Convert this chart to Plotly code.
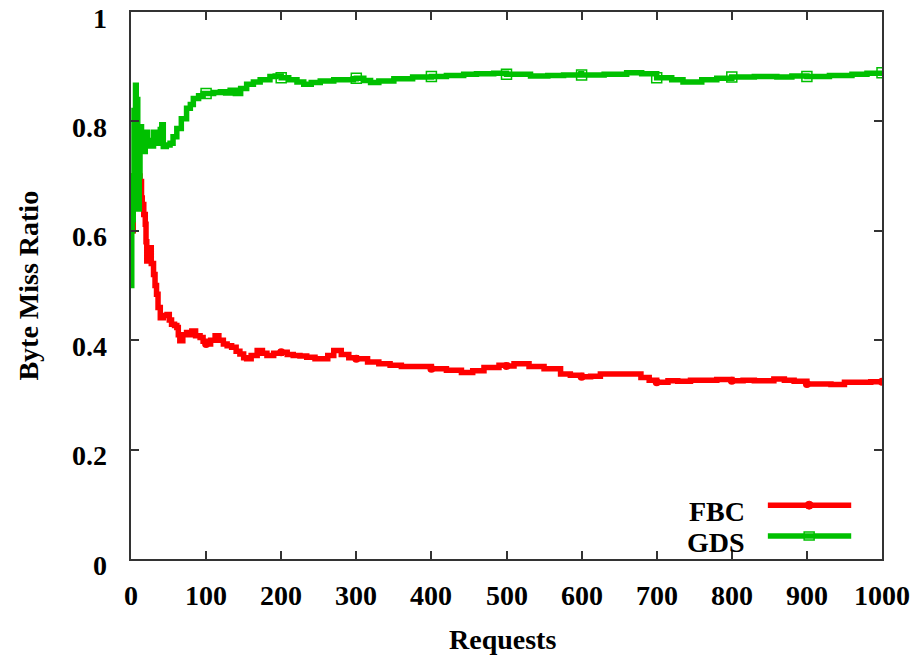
import plotly.graph_objects as go

# ---------------- data ----------------
series_names = ["FBC", "GDS"]

fbc_requests = [0, 3, 6, 9, 12, 14, 15, 17, 19, 20, 21, 23, 25, 27, 30, 32, 34, 36, 39, 43,
                48, 51, 54, 58, 61, 63, 65, 69, 74, 78, 81, 86, 92, 96, 100, 106, 112, 117, 123, 128,
                134, 140, 145, 150, 154, 160, 168, 175, 181, 190, 200, 208, 216, 225, 234, 245, 252, 262, 270, 280,
                290, 300, 315, 330, 345, 360, 380, 400, 420, 440, 455, 470, 490, 500, 510, 530, 550, 572, 585, 600,
                612, 625, 652, 679, 690, 700, 715, 728, 745, 759, 780, 800, 815, 830, 856, 870, 883, 900, 915, 932,
                950, 970, 985, 1000]
fbc_ratio = [0.60, 0.70, 0.75, 0.70, 0.69, 0.66, 0.648, 0.63, 0.612, 0.58, 0.545, 0.56, 0.569, 0.54, 0.52, 0.50, 0.484, 0.46, 0.441, 0.445,
             0.447, 0.437, 0.429, 0.427, 0.423, 0.41, 0.399, 0.41, 0.414, 0.41, 0.417, 0.408, 0.405, 0.398, 0.393, 0.40, 0.408, 0.40, 0.393, 0.39,
             0.387, 0.38, 0.375, 0.368, 0.366, 0.372, 0.381, 0.376, 0.372, 0.376, 0.378, 0.374, 0.372, 0.371, 0.369, 0.366, 0.366, 0.372, 0.381, 0.374,
             0.368, 0.366, 0.36, 0.357, 0.354, 0.352, 0.352, 0.348, 0.345, 0.341, 0.344, 0.35, 0.354, 0.353, 0.357, 0.352, 0.348, 0.338, 0.336, 0.333,
             0.334, 0.338, 0.338, 0.332, 0.327, 0.323, 0.326, 0.325, 0.327, 0.327, 0.328, 0.326, 0.327, 0.326, 0.329, 0.327, 0.325, 0.320, 0.320, 0.319,
             0.323, 0.323, 0.324, 0.324]

gds_requests = [0, 1, 2, 3, 4, 5, 6, 7, 8, 9, 10, 11, 12, 13, 14, 15, 17, 19, 20, 22,
                25, 28, 30, 33, 36, 39, 41, 43, 47, 52, 56, 61, 67, 74, 79, 83, 90, 96, 100, 110,
                119, 126, 132, 139, 146, 154, 163, 172, 185, 192, 200, 210, 221, 230, 240, 252, 270, 296, 300, 310,
                319, 330, 350, 375, 400, 420, 443, 460, 483, 500, 532, 555, 576, 599, 600, 630, 660, 680, 700, 720,
                735, 760, 780, 800, 830, 860, 880, 900, 930, 960, 980, 1000]
gds_ratio = [0.50, 0.60, 0.62, 0.70, 0.82, 0.75, 0.866, 0.80, 0.84, 0.72, 0.64, 0.70, 0.76, 0.79, 0.75, 0.77, 0.745, 0.775, 0.78, 0.755,
             0.765, 0.755, 0.78, 0.76, 0.77, 0.785, 0.794, 0.754, 0.757, 0.76, 0.772, 0.787, 0.805, 0.824, 0.831, 0.842, 0.847, 0.851, 0.851, 0.853,
             0.854, 0.852, 0.857, 0.851, 0.86, 0.868, 0.872, 0.876, 0.882, 0.883, 0.880, 0.876, 0.872, 0.868, 0.871, 0.874, 0.876, 0.878, 0.879, 0.875,
             0.871, 0.874, 0.878, 0.881, 0.882, 0.884, 0.886, 0.887, 0.888, 0.886, 0.883, 0.884, 0.885, 0.887, 0.885, 0.886, 0.889, 0.887, 0.880, 0.876,
             0.872, 0.876, 0.879, 0.881, 0.882, 0.881, 0.883, 0.882, 0.884, 0.886, 0.888, 0.889]

x_ticks = [0, 100, 200, 300, 400, 500, 600, 700, 800, 900, 1000]
x_tick_labels = ["0", "100", "200", "300", "400", "500", "600", "700", "800", "900", "1000"]
y_ticks = [0, 0.2, 0.4, 0.6, 0.8, 1]
y_tick_labels = ["0", "0.2", "0.4", "0.6", "0.8", "1"]
x_title = "Requests"
y_title = "Byte Miss Ratio"
marker_step = 100

# ---------------- style ----------------
RED = "#ff0000"
GREEN = "#00c000"
AXIS = "#333333"
FONT = "Liberation Serif"
FS = 28
LW = 5.5
TXT = dict(family=FONT, size=FS, color="black", weight="bold")


def marked(xs, ys, step):
    pts = [(x, y) for x, y in zip(xs, ys) if x > 0 and x % step == 0]
    return [p[0] for p in pts], [p[1] for p in pts]


fig = go.Figure()

# FBC line + small filled markers
fig.add_trace(go.Scatter(x=fbc_requests, y=fbc_ratio, mode="lines",
                         line=dict(color=RED, width=LW, shape="hv"),
                         showlegend=False, hoverinfo="skip"))
fx, fy = marked(fbc_requests, fbc_ratio, marker_step)
fig.add_trace(go.Scatter(x=fx, y=fy, mode="markers",
                         marker=dict(symbol="circle", size=8, color=RED),
                         showlegend=False, hoverinfo="skip"))

# GDS line + open squares
fig.add_trace(go.Scatter(x=gds_requests, y=gds_ratio, mode="lines",
                         line=dict(color=GREEN, width=LW, shape="hv"),
                         showlegend=False, hoverinfo="skip"))
gx, gy = marked(gds_requests, gds_ratio, marker_step)
fig.add_trace(go.Scatter(x=gx, y=gy, mode="markers",
                         marker=dict(symbol="square-open", size=10, color=GREEN,
                                     line=dict(width=1.5, color=GREEN)),
                         showlegend=False, hoverinfo="skip"))

shapes = []
annotations = []

# ---------------- tick labels (gnuplot placement) ----------------
for v, t in zip(y_ticks, y_tick_labels):
    annotations.append(dict(text=t, xref="paper", yref="y", x=-0.0293, y=v,
                            xanchor="right", yanchor="middle", yshift=-6,
                            showarrow=False, font=TXT))
for v, t in zip(x_ticks, x_tick_labels):
    annotations.append(dict(text=t, xref="x", yref="paper", x=v, y=-0.0674,
                            xanchor="center", yanchor="middle",
                            showarrow=False, font=TXT))

# ---------------- manual gnuplot-style key ----------------
key_rows = [0.0984, 0.0419]
key_x0, key_x1, key_mid, key_text_x = 0.848, 0.959, 0.903, 0.820
key_colors = [RED, GREEN]
for name, yk, col in zip(series_names, key_rows, key_colors):
    shapes.append(dict(type="line", xref="paper", yref="paper", x0=key_x0, x1=key_x1,
                       y0=yk, y1=yk, line=dict(color=col, width=LW)))
    annotations.append(dict(text=name, xref="paper", yref="paper", x=key_text_x, y=yk,
                            xanchor="right", yanchor="middle", showarrow=False, yshift=-6,
                            font=TXT))
shapes.append(dict(type="circle", xref="paper", yref="paper", xsizemode="pixel", ysizemode="pixel",
                   xanchor=key_mid, yanchor=key_rows[0], x0=-4, x1=4, y0=-4, y1=4,
                   fillcolor=RED, line=dict(color=RED, width=1)))
shapes.append(dict(type="rect", xref="paper", yref="paper", xsizemode="pixel", ysizemode="pixel",
                   xanchor=key_mid, yanchor=key_rows[1], x0=-5, x1=5, y0=-4, y1=4,
                   fillcolor="rgba(0,0,0,0)", line=dict(color=GREEN, width=1.5)))

# ---------------- axis titles ----------------
annotations.append(dict(text=y_title, xref="paper", yref="paper", x=-0.137, y=0.5,
                        textangle=-90, showarrow=False, xanchor="center", yanchor="middle",
                        font=TXT))
annotations.append(dict(text=x_title, xref="paper", yref="paper", x=0.495, y=-0.148,
                        showarrow=False, xanchor="center", yanchor="middle",
                        font=TXT))

fig.update_layout(
    width=917, height=659,
    margin=dict(l=131, r=35, t=10, b=100),
    paper_bgcolor="white", plot_bgcolor="white",
    font=TXT,
    shapes=shapes, annotations=annotations,
    showlegend=False,
)
fig.update_xaxes(range=[0, 1000], tickvals=x_ticks, showticklabels=False,
                 ticks="inside", ticklen=8, tickwidth=1.5, tickcolor=AXIS,
                 showline=True, linecolor=AXIS, linewidth=1.5, mirror="ticks",
                 showgrid=False, zeroline=False)
fig.update_yaxes(range=[0, 1], tickvals=y_ticks, showticklabels=False,
                 ticks="inside", ticklen=8, tickwidth=1.5, tickcolor=AXIS,
                 showline=True, linecolor=AXIS, linewidth=1.5, mirror="ticks",
                 showgrid=False, zeroline=False)

fig.write_html("out.html", config={"displayModeBar": False})

# remove the browser's default page margin so the figure fills the window exactly
with open("out.html", "r", encoding="utf-8") as f:
    html = f.read()
html = html.replace("<head>", "<head><style>html,body{margin:0;padding:0;overflow:hidden;}</style>", 1)
with open("out.html", "w", encoding="utf-8") as f:
    f.write(html)
